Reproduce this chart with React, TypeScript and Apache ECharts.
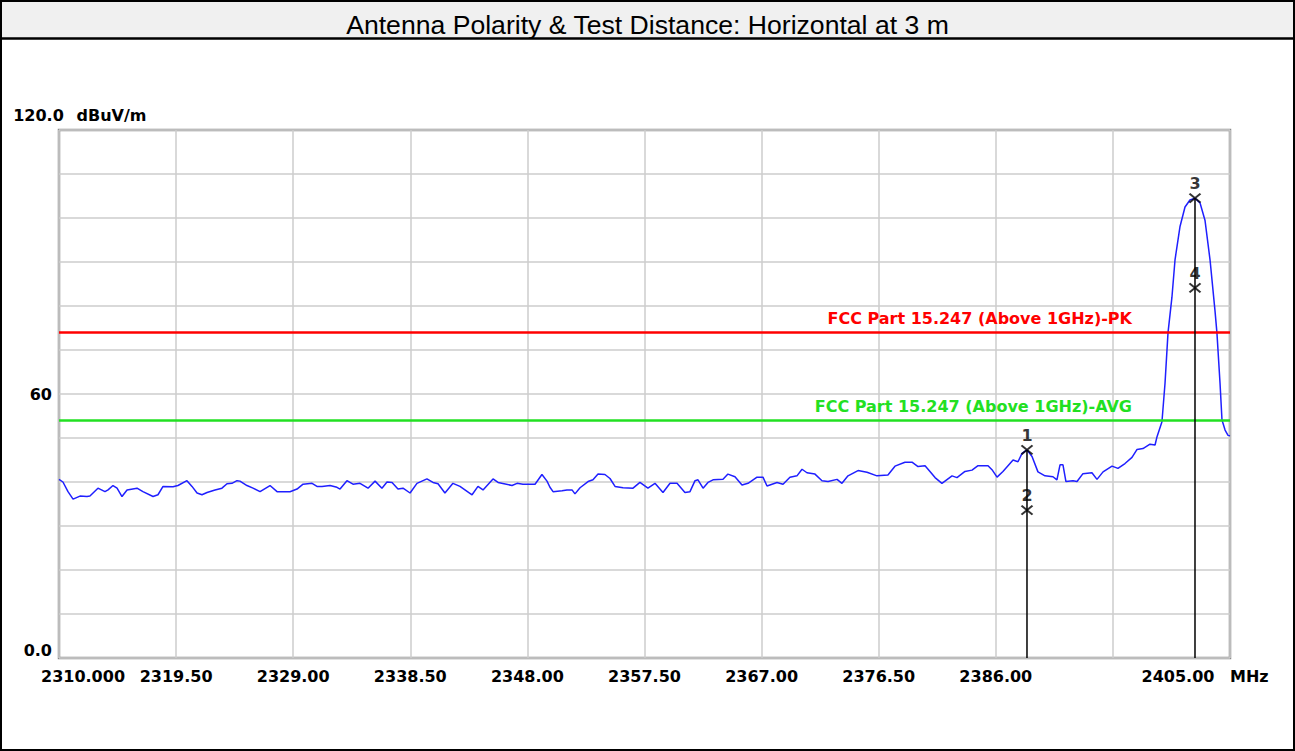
import React, { useEffect, useRef } from 'react';
import * as echarts from 'echarts';

const titleText = 'Antenna Polarity & Test Distance: Horizontal at 3 m';
const yUnit = 'dBuV/m';
const xUnit = 'MHz';

const freqMHz = [
  2310.00, 2310.32, 2310.73, 2311.14, 2311.70, 2312.27, 2312.51, 2313.16, 2313.73, 2313.98,
  2314.38, 2314.71, 2315.11, 2315.52, 2316.33, 2316.81, 2317.63, 2318.03, 2318.44, 2319.25,
  2319.65, 2320.38, 2320.79, 2321.20, 2321.60, 2322.01, 2322.66, 2323.22, 2323.63, 2324.03,
  2324.44, 2324.68, 2325.25, 2325.74, 2326.31, 2327.12, 2327.69, 2328.74, 2329.31, 2329.80,
  2330.53, 2330.93, 2331.34, 2331.99, 2332.55, 2332.80, 2333.36, 2333.85, 2334.42, 2335.07,
  2335.64, 2336.20, 2336.61, 2337.02, 2337.50, 2337.91, 2338.48, 2339.04, 2339.85, 2340.34,
  2340.75, 2341.31, 2341.96, 2342.53, 2343.51, 2343.99, 2344.40, 2345.21, 2345.62, 2346.75,
  2347.16, 2347.64, 2348.62, 2349.18, 2349.59, 2349.83, 2350.08, 2350.81, 2351.21, 2351.62,
  2351.86, 2352.27, 2352.92, 2353.32, 2353.73, 2354.29, 2354.70, 2355.11, 2355.76, 2356.57,
  2357.13, 2357.78, 2358.35, 2359.00, 2359.57, 2360.14, 2360.78, 2361.19, 2361.60, 2361.84,
  2362.25, 2362.65, 2363.06, 2363.87, 2364.27, 2364.84, 2365.41, 2365.90, 2366.63, 2367.11,
  2367.44, 2368.25, 2368.74, 2369.30, 2369.87, 2370.28, 2370.68, 2371.33, 2371.90, 2372.39,
  2373.12, 2373.52, 2374.01, 2374.82, 2375.55, 2376.36, 2377.25, 2377.82, 2378.63, 2379.20,
  2379.69, 2380.26, 2380.66, 2381.07, 2381.63, 2382.45, 2382.85, 2383.50, 2384.07, 2384.56,
  2385.37, 2385.69, 2386.10, 2386.58, 2387.40, 2387.80, 2388.13, 2388.53, 2388.94, 2389.42,
  2389.99, 2390.64, 2390.96, 2391.21, 2391.45, 2391.69, 2392.26, 2392.59, 2393.07, 2393.80,
  2394.21, 2394.70, 2395.43, 2395.91, 2396.48, 2397.05, 2397.46, 2397.94, 2398.51, 2398.92,
  2399.08, 2399.48, 2399.73, 2399.97, 2400.29, 2400.54, 2400.94, 2401.35, 2401.75, 2402.16,
  2402.57, 2402.97, 2403.38, 2403.78, 2403.94, 2404.19, 2404.35, 2404.60, 2404.84, 2405.00,
];

const levelDbuV = [
  40.6, 40.0, 37.8, 36.1, 36.8, 36.7, 36.8, 38.6, 37.8, 38.2,
  39.2, 38.6, 36.7, 38.2, 38.6, 37.8, 36.7, 37.1, 39.0, 38.9,
  39.2, 40.3, 39.0, 37.5, 37.1, 37.6, 38.2, 38.6, 39.6, 39.7,
  40.3, 40.2, 39.2, 38.6, 37.8, 39.2, 37.8, 37.8, 38.4, 39.5,
  39.7, 39.0, 39.0, 39.2, 38.8, 38.4, 40.3, 39.5, 39.7, 38.6,
  40.2, 38.6, 40.0, 39.9, 38.4, 38.6, 37.5, 39.7, 40.7, 39.9,
  39.6, 37.5, 39.7, 39.0, 37.1, 39.0, 38.2, 40.7, 39.9, 39.2,
  39.7, 39.5, 39.5, 41.7, 40.2, 38.8, 37.8, 38.0, 38.2, 38.2,
  37.3, 38.7, 40.1, 40.5, 41.8, 41.7, 40.8, 39.0, 38.7, 38.6,
  39.9, 38.6, 39.7, 37.6, 39.7, 39.7, 37.6, 37.8, 40.3, 40.5,
  38.6, 39.9, 40.5, 40.6, 41.8, 41.2, 39.3, 39.7, 41.1, 41.1,
  39.1, 39.9, 39.5, 41.1, 41.4, 42.9, 42.1, 41.8, 40.3, 40.1,
  40.6, 39.7, 41.4, 42.6, 42.2, 41.4, 41.6, 43.6, 44.5, 44.5,
  43.5, 43.7, 42.4, 41.0, 39.7, 41.4, 41.0, 42.4, 42.7, 43.7,
  43.7, 42.8, 41.1, 42.4, 45.0, 44.6, 46.5, 47.3, 45.8, 42.3,
  41.4, 41.2, 40.5, 43.9, 43.9, 40.1, 40.3, 40.1, 41.9, 42.1,
  40.6, 42.3, 43.6, 43.1, 44.2, 45.6, 47.4, 47.6, 48.6, 48.4,
  50.3, 53.7, 62.5, 73.9, 82.0, 90.5, 98.0, 102.5, 104.1, 104.5,
  103.4, 99.5, 90.5, 79.0, 73.9, 62.5, 54.1, 51.8, 50.6, 50.5,
];

const limitNames = ['FCC Part 15.247 (Above 1GHz)-PK', 'FCC Part 15.247 (Above 1GHz)-AVG'];
const limitValues = [74, 54];
const limitColors = ['#ff0000', '#22e022'];

const markerIds = ['1', '2', '3', '4'];
const markerFreq = [2388.53, 2388.53, 2402.16, 2402.16];
const markerLevel = [47.3, 33.6, 104.5, 84.1];

const xMin = 2310;
const xMax = 2405;
const xStep = 9.5;
const yMin = 0;
const yMax = 120;
const yStep = 10;
const yLabelValues = [0, 60];

const tickFont = 'DejaVu Sans';
const FS = 16;
const baseText = { fontFamily: tickFont, fontWeight: 'bold', fontSize: FS, color: '#000' };

export default function App() {
  const ref = useRef<HTMLDivElement>(null);
  useEffect(() => {
    const chart = echarts.init(ref.current!, null, { renderer: 'svg' });

    const trace = freqMHz.map((f, i) => [f, levelDbuV[i]]);

    const uniq: number[] = [];
    markerFreq.forEach((f) => { if (!uniq.includes(f)) uniq.push(f); });
    const markerLineSeries = uniq.map((f) => {
      const top = Math.max(...markerLevel.filter((_, i) => markerFreq[i] === f));
      return {
        type: 'line',
        data: [[f, yMin], [f, top]],
        showSymbol: false,
        symbol: 'none',
        lineStyle: { color: '#000', width: 1.5 },
        z: 5,
        silent: true,
      };
    });

    const option: any = {
      animation: false,
      backgroundColor: '#ffffff',
      title: {
        text: titleText,
        left: 'center',
        top: 6,
        textStyle: { fontFamily: 'Liberation Sans', fontSize: 26.6, fontWeight: 'normal', color: '#000' },
      },
      graphic: [
        { type: 'rect', shape: { x: 1, y: 1, width: 1293, height: 38 }, style: { fill: '#f0f0f0', stroke: 'none' }, z: -10 },
        { type: 'line', shape: { x1: 0, y1: 38.5, x2: 1295, y2: 38.5 }, style: { stroke: '#000', lineWidth: 2.5 }, z: 10 },
        { type: 'rect', shape: { x: 1, y: 1, width: 1293, height: 749 }, style: { fill: 'none', stroke: '#000', lineWidth: 2 }, z: 10 },
      ],
      grid: {
        left: 59, right: 65, top: 130, bottom: 93,
        show: true, borderColor: '#8c8c8c', borderWidth: 2.5, backgroundColor: '#fff',
      },
      xAxis: {
        type: 'value',
        min: xMin, max: xMax, interval: xStep,
        name: '{m|' + xUnit + '}',
        nameLocation: 'end',
        nameGap: 0,
        nameTextStyle: {
          align: 'left', verticalAlign: 'middle',
          rich: { m: { ...baseText, padding: [36, 0, 0, 0] } },
        },
        axisLine: { show: false },
        axisTick: { show: false },
        splitLine: { show: true, lineStyle: { color: '#cccccc', width: 1.5 } },
        axisLabel: {
          margin: 10,
          ...baseText,
          showMinLabel: true, showMaxLabel: true,
          hideOverlap: false,
          formatter: (v: number) => {
            if (Math.abs(v - xMin) < 1e-6) return '{first|' + v.toFixed(3) + '}';
            if (Math.abs(v - xMax) < 1e-6) return '{last|' + v.toFixed(2) + '}';
            if (Math.abs(v - (xMax - xStep)) < 1e-6) return '';
            return v.toFixed(2);
          },
          rich: {
            first: { ...baseText, padding: [0, 0, 0, 48] },
            last: { ...baseText, padding: [0, 104, 0, 0] },
          },
        },
      },
      yAxis: {
        type: 'value',
        min: yMin, max: yMax, interval: yStep,
        name: '{a|' + yMax.toFixed(1) + '}{b|' + yUnit + '}',
        nameLocation: 'end',
        nameGap: 15,
        nameTextStyle: {
          align: 'center', verticalAlign: 'middle', padding: [0, 0, 0, 42],
          rich: {
            a: { ...baseText, width: 63 },
            b: { ...baseText, width: 83 },
          },
        },
        axisLine: { show: false },
        axisTick: { show: false },
        splitLine: { show: true, lineStyle: { color: '#cccccc', width: 1.5 } },
        axisLabel: {
          margin: 7,
          ...baseText,
          formatter: (v: number) => {
            if (!yLabelValues.includes(v)) return '';
            if (v === 0) return '{z|0.0}';
            return String(v);
          },
          rich: {
            z: { ...baseText, padding: [0, 0, 16, 0] },
          },
        },
      },
      series: [
        {
          type: 'line',
          data: trace,
          showSymbol: false,
          symbol: 'none',
          lineStyle: { color: '#1f1fff', width: 1.5 },
          z: 2,
          silent: true,
        },
        {
          type: 'line',
          data: [],
          z: 3,
          markLine: {
            silent: true,
            symbol: 'none',
            animation: false,
            data: limitValues.map((v, i) => ({
              yAxis: v,
              lineStyle: { color: limitColors[i], width: 2.5, type: 'solid' },
              label: {
                show: true,
                position: 'insideEndTop',
                distance: [98, 6],
                formatter: limitNames[i],
                ...baseText,
                color: limitColors[i],
              },
            })),
          },
        },
        ...markerLineSeries,
        {
          type: 'scatter',
          data: markerFreq.map((f, i) => [f, markerLevel[i]]),
          symbol: 'path://M0,0L12,10M12,0L0,10',
          symbolSize: [11, 9],
          itemStyle: { color: 'rgba(0,0,0,0)', borderColor: '#000', borderWidth: 2 },
          z: 6,
          silent: true,
          label: {
            show: true,
            position: 'top',
            distance: 1,
            formatter: (p: any) => markerIds[p.dataIndex],
            ...baseText,
          },
        },
      ],
    };

    chart.setOption(option);
    return () => chart.dispose();
  }, []);

  return (
    <div
      ref={ref}
      style={{ position: 'fixed', left: 0, top: 0, width: 1295, height: 751, background: '#fff' }}
    />
  );
}
